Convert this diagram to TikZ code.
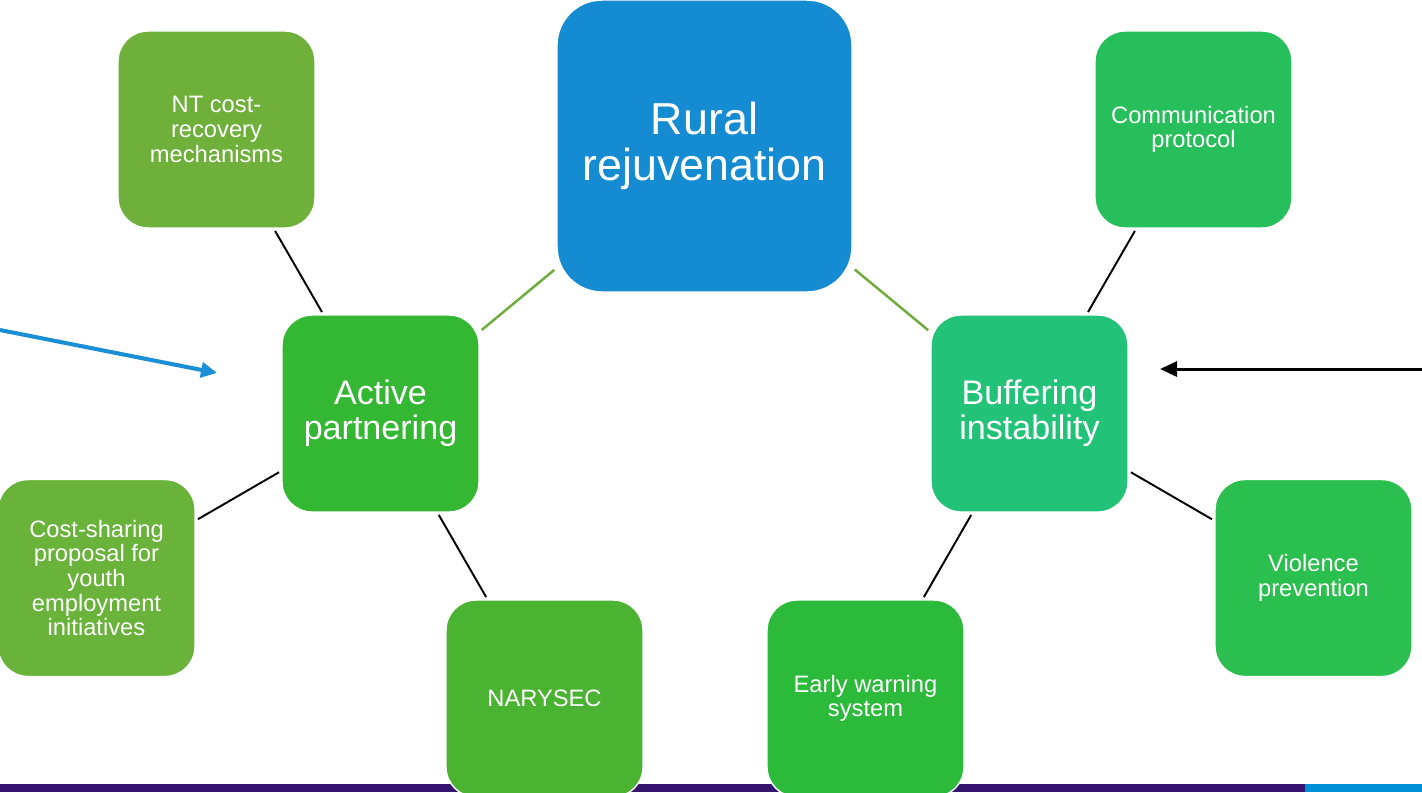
\documentclass[tikz,border=0pt]{standalone}
\usepackage{fontspec}
\setmainfont{Liberation Sans}
\usetikzlibrary{arrows.meta}

\definecolor{hubblue}{HTML}{158BD1}
\definecolor{olivegreen}{HTML}{6FB03A}
\definecolor{leafgreen}{HTML}{34B733}
\definecolor{tealgreen}{HTML}{22C379}
\definecolor{commgreen}{HTML}{27BF5B}
\definecolor{violgreen}{HTML}{2BBF4F}
\definecolor{narygreen}{HTML}{4AB432}
\definecolor{warngreen}{HTML}{2CBA3B}
\definecolor{costgreen}{HTML}{6AB33B}
\definecolor{linkgreen}{HTML}{6EAD3A}
\definecolor{arrowblue}{HTML}{1A8FD5}
\definecolor{barpurple}{HTML}{35146E}
\definecolor{barblue}{HTML}{0090D8}

\begin{document}
\begin{tikzpicture}[x=0.02cm, y=-0.02cm,
	box/.style={rectangle, rounded corners=0.6cm, draw=white, line width=0.8pt, minimum width=3.94cm, minimum height=3.94cm, align=center, text=white, inner sep=2pt},
	small/.style={font=\fontsize{13.5}{14}\selectfont},
	mid/.style={font=\fontsize{19.4}{19.9}\selectfont},
	link/.style={line width=1.1pt, shorten <=1.5pt, shorten >=1.5pt},
	hub/.style={link, draw=linkgreen, line width=1.4pt}]

	\useasboundingbox (0,0) rectangle (1422,792);
	\fill [barpurple] (0,784) rectangle (1305,792);
	\fill [barblue] (1305,784) rectangle (1422,792);

	\node [box, fill=hubblue, rounded corners=0.9cm, minimum width=5.9cm, minimum height=5.84cm, font=\fontsize{25.5}{26.6}\selectfont] (RR) at (704.5,146) {Rural\\rejuvenation};

	\node [box, mid, fill=leafgreen] (AP) at (380.5,413.5) {Active\\partnering};
	\node [box, mid, fill=tealgreen] (BI) at (1029.5,413.5) {Buffering\\instability};

	\node [box, small, fill=olivegreen] (NT) at (216.5,129.5) {NT cost-\\recovery\\mechanisms};
	\node [box, small, fill=costgreen] (CS) at (96.5,578) {Cost-sharing\\proposal for\\youth\\employment\\initiatives};
	\node [box, small, fill=narygreen] (NY) at (544.5,698.5) {NARYSEC};

	\node [box, small, fill=commgreen] (CP) at (1193.5,129.5) {Communication\\protocol};
	\node [box, small, fill=violgreen] (VP) at (1313.5,578) {Violence\\prevention};
	\node [box, small, fill=warngreen] (EW) at (865.5,698.5) {Early warning\\system};

	\draw [hub] (AP) -- (RR);
	\draw [hub] (RR) -- (BI);

	\draw [link] (NT) -- (AP);
	\draw [link] (CS) -- (AP);
	\draw [link] (AP) -- (NY);
	\draw [link] (CP) -- (BI);
	\draw [link] (BI) -- (VP);
	\draw [link] (BI) -- (EW);

	\coordinate (inL) at (0,330);
	\coordinate (tipL) at (217,373);
	\coordinate (inR) at (1422,369);
	\coordinate (tipR) at (1160,369);

	\draw [arrowblue, line width=2.3pt, -{Triangle[length=0.32cm, width=0.3cm]}] (inL) -- (tipL);
	\draw [black, line width=1.7pt, -{Triangle[length=0.34cm, width=0.3cm]}] (inR) -- (tipR);

\end{tikzpicture}
\end{document}
